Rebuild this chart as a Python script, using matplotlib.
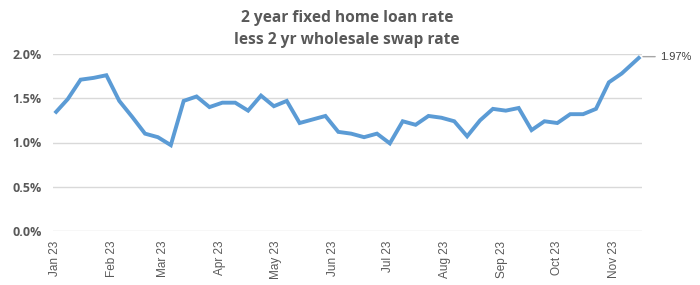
import matplotlib
matplotlib.use("Agg")
import matplotlib.pyplot as plt
import matplotlib.dates as mdates
import numpy as np
import pandas as pd

# Data: weekly spread (percent), 2 year fixed home loan rate less 2 yr swap rate
start_date = "2023-01-01"
n_weekly = 45
last_date = "2023-11-15"
values = [1.33, 1.49, 1.71, 1.73, 1.76, 1.47, 1.29, 1.10, 1.06, 0.97,
          1.47, 1.52, 1.40, 1.45, 1.45, 1.36, 1.53, 1.41, 1.47, 1.22,
          1.26, 1.30, 1.12, 1.10, 1.06, 1.10, 0.99, 1.24, 1.20, 1.30,
          1.28, 1.24, 1.07, 1.25, 1.38, 1.36, 1.39, 1.14, 1.24, 1.22,
          1.32, 1.32, 1.38, 1.68, 1.78, 1.97]
title = "2 year fixed home loan rate\nless 2 yr wholesale swap rate"
last_label = "1.97%"
yticks = [0.0, 0.5, 1.0, 1.5, 2.0]

dates = list(pd.date_range(start_date, periods=n_weekly, freq="7D")) + [pd.Timestamp(last_date)]

fig = plt.figure(figsize=(7, 2.85), dpi=100)
ax = fig.add_axes([53/700, 1-231/285, (642-53)/700, (231-54)/285])

ax.plot(dates, values, color="#5B9BD5", linewidth=2.8, solid_joinstyle="miter", solid_capstyle="butt")

ax.set_xlim(pd.Timestamp(start_date) - pd.Timedelta(days=1), pd.Timestamp(last_date) + pd.Timedelta(days=1))
ax.set_ylim(0, 2.0)
ax.set_yticks(yticks)
ax.set_yticklabels([f"{v:.1f}%" for v in yticks], fontsize=9, fontweight="bold", color="#595959",
                   family="Open Sans")
ax.xaxis.set_major_locator(mdates.MonthLocator())
ax.xaxis.set_major_formatter(mdates.DateFormatter("%b %y"))
for lab in ax.get_xticklabels():
    lab.set_rotation(90)
    lab.set_fontsize(8.5)
    lab.set_color("#595959")
    lab.set_family("Liberation Sans")
ax.tick_params(axis="both", length=0)
ax.tick_params(axis="y", pad=8)
ax.tick_params(axis="x", pad=7)
ax.grid(axis="y", color="#D9D9D9", linewidth=1)
ax.set_axisbelow(True)
for s in ax.spines.values():
    s.set_visible(False)

# leader line and label for last value
ax.annotate("", xy=(dates[-1], values[-1]), xytext=(15, 0), textcoords="offset pixels",
            arrowprops=dict(arrowstyle="-", color="#A6A6A6", linewidth=1, shrinkA=0, shrinkB=2))
ax.annotate(last_label, xy=(dates[-1], values[-1]), xytext=(20, 0), textcoords="offset pixels",
            va="center", ha="left", fontsize=8, color="#404040", family="Liberation Sans",
            annotation_clip=False)

fig.text(347/700, 1-29/285, title, ha="center", va="center", fontsize=11.2, fontweight="bold",
         color="#595959", family="Open Sans", linespacing=1.55)

fig.savefig("out.png", dpi=100)
